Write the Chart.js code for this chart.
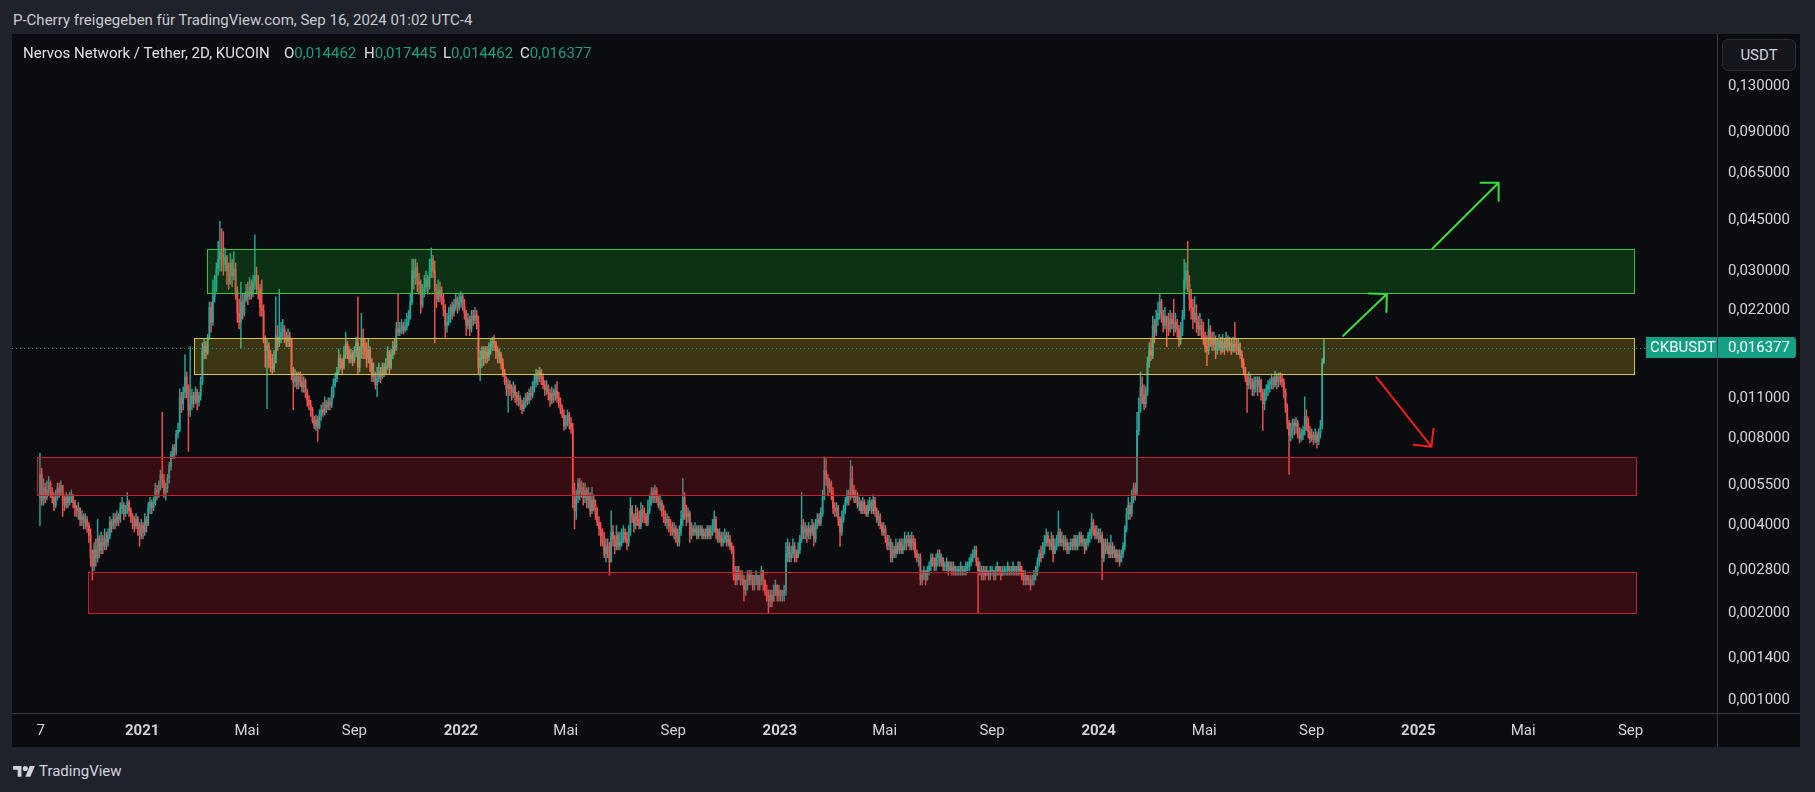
<!DOCTYPE html>
<html lang="de">
<head>
<meta charset="utf-8">
<title>CKB/USDT 2D</title>
<script src="https://cdn.jsdelivr.net/npm/chart.js@4.4.1/dist/chart.umd.min.js"></script>
<style>
  html, body { margin:0; padding:0; width:1815px; height:792px; overflow:hidden; background:#1f222b; font-family: Roboto, "DejaVu Sans", sans-serif; }
  #hdr { position:absolute; left:13px; top:11px; font-size:15px; line-height:18px; color:#c9cbd1; white-space:nowrap; }
  #panel { position:absolute; left:12px; top:34px; width:1788px; height:713px; background:#0b0c10; }
  #cv { position:absolute; left:12px; top:34px; }
  .lg { position:absolute; top:44px; font-size:15px; line-height:18px; color:#e0e2e7; white-space:nowrap; }
  .lg span { color:#1c9e82; }
  #usdt { position:absolute; left:1722px; top:39px; width:74px; height:32px; box-sizing:border-box; border:1px solid #2a2e39; border-radius:6px; background:#14161c; color:#d1d4dc; font-size:15px; line-height:30px; text-align:center; }
  #foot { position:absolute; left:12px; top:762px; height:18px; display:flex; align-items:center; gap:3px; color:#d1d4dc; font-size:15px; }
</style>
</head>
<body>
<div id="hdr">P-Cherry freigegeben für TradingView.com, Sep 16, 2024 01:02 UTC-4</div>
<div id="panel"></div>
<canvas id="cv" width="1788" height="713" style="width:1788px;height:713px"></canvas>
<div class="lg" style="left:23px">Nervos Network / Tether, 2D, KUCOIN</div>
<div class="lg" style="left:284px">O<span id="vO">0,014462</span></div>
<div class="lg" style="left:364px">H<span id="vH">0,017445</span></div>
<div class="lg" style="left:443px">L<span id="vL">0,014462</span></div>
<div class="lg" style="left:520px">C<span id="vC">0,016377</span></div>
<div id="usdt">USDT</div>
<div id="foot">
  <svg width="24" height="14" viewBox="0 0 36 22"><path d="M14 20H8V9H1V3h13v17z" fill="#d1d4dc"/><circle cx="20" cy="7" r="4" fill="#d1d4dc"/><path d="M27 3h8l-7 17h-8l7-17z" fill="#d1d4dc"/></svg>
  <span>TradingView</span>
</div>
<script>
// ---------------- DATA ----------------
const symbol = 'CKBUSDT';
const firstCandleDate = '2020-09-06';
const intervalDays = 2;
const firstOpen = .0050;

const closes = [
.0060,.0049,.0054,.0050,.0053,.0056,.0052,.0050,.0047,.0050,
.0054,.0052,.0055,.0049,.0047,.0050,.0048,.0050,.0051,.0048,
.0046,.0045,.0046,.0042,.0043,.0041,.0042,.0040,.0037,.0031,
.0029,.0033,.0031,.0036,.0033,.0035,.0034,.0036,.0035,.0037,
.0041,.0040,.0042,.0041,.0043,.0042,.0046,.0047,.0044,.0045,
.0048,.0045,.0043,.0041,.0040,.0042,.0039,.0037,.0040,.0038,
.0042,.0040,.0046,.0048,.0046,.0048,.0053,.0052,.0055,.0060,
.0057,.0052,.0054,.0058,.0064,.0070,.0074,.0072,.0083,.0085,
.0110,.0105,.0115,.0130,.0118,.0100,.0105,.0112,.0108,.0115,
.0106,.0112,.0125,.0160,.0165,.0158,.0178,.0225,.0200,.0245,
.0265,.0305,.0330,.0350,.0340,.0315,.0335,.0300,.0275,.0320,
.0290,.0305,.0255,.0215,.0200,.0235,.0215,.0240,.0255,.0245,
.0265,.0250,.0275,.0290,.0265,.0260,.0225,.0220,.0175,.0160,
.0165,.0150,.0140,.0138,.0145,.0180,.0170,.0178,.0185,.0190,
.0178,.0172,.0180,.0175,.0135,.0125,.0130,.0122,.0130,.0125,
.0120,.0126,.0115,.0108,.0104,.0100,.0092,.0088,.0092,.0087,
.0096,.0100,.0098,.0104,.0102,.0106,.0104,.0112,.0122,.0128,
.0135,.0150,.0145,.0140,.0155,.0168,.0160,.0150,.0155,.0148,
.0158,.0170,.0140,.0155,.0175,.0165,.0160,.0150,.0162,.0145,
.0130,.0132,.0122,.0128,.0135,.0130,.0140,.0133,.0142,.0158,
.0140,.0155,.0165,.0162,.0190,.0185,.0190,.0195,.0188,.0193,
.0200,.0210,.0235,.0300,.0285,.0310,.0275,.0270,.0230,.0255,
.0265,.0280,.0265,.0300,.0330,.0300,.0260,.0240,.0260,.0245,
.0240,.0220,.0195,.0200,.0210,.0225,.0215,.0230,.0240,.0225,
.0235,.0245,.0230,.0215,.0195,.0205,.0190,.0210,.0205,.0212,
.0200,.0140,.0150,.0160,.0150,.0158,.0152,.0162,.0168,.0172,
.0170,.0160,.0152,.0155,.0145,.0134,.0125,.0118,.0122,.0118,
.0115,.0120,.0112,.0108,.0110,.0104,.0101,.0106,.0110,.0108,
.0114,.0112,.0120,.0125,.0133,.0128,.0135,.0130,.0122,.0117,
.0120,.0114,.0108,.0114,.0112,.0116,.0110,.0106,.0100,.0096,
.0088,.0092,.0096,.0090,.0086,.0052,.0045,.0050,.0056,.0052,
.0054,.0050,.0053,.0049,.0051,.0045,.0049,.0047,.0044,.0041,
.0039,.0037,.0035,.0032,.0034,.0033,.0030,.0038,.0036,.0034,
.0037,.0034,.0035,.0036,.0038,.0036,.0035,.0038,.0046,.0043,
.0040,.0044,.0042,.0040,.0045,.0044,.0043,.0041,.0045,.0049,
.0052,.0050,.0053,.0050,.0047,.0048,.0045,.0043,.0041,.0042,
.0040,.0039,.0038,.0039,.0037,.0035,.0038,.0042,.0050,.0045,
.0043,.0044,.0037,.0039,.0038,.0039,.0037,.0038,.0039,.0037,
.0038,.0037,.0039,.0037,.0038,.0040,.0042,.0038,.0036,.0037,
.0035,.0036,.0037,.0035,.0036,.0034,.0033,.0027,.0026,.0028,
.0027,.0026,.0026,.0024,.0025,.0027,.0026,.0027,.0025,.0026,
.0027,.0025,.0026,.0028,.0026,.0024,.0023,.0022,.0023,.0022,
.0024,.0025,.0023,.0024,.0023,.0023,.0024,.0032,.0034,.0031,
.0032,.0034,.0032,.0031,.0033,.0036,.0040,.0038,.0039,.0037,
.0039,.0038,.0040,.0036,.0040,.0042,.0041,.0044,.0050,.0062,
.0058,.0054,.0056,.0052,.0046,.0045,.0046,.0042,.0038,.0042,
.0045,.0048,.0051,.0050,.0058,.0053,.0050,.0051,.0047,.0048,
.0045,.0048,.0046,.0044,.0047,.0048,.0045,.0049,.0045,.0042,
.0043,.0040,.0038,.0039,.0036,.0034,.0035,.0031,.0033,.0032,
.0034,.0033,.0035,.0033,.0034,.0036,.0035,.0036,.0034,.0036,
.0035,.0032,.0031,.0031,.0026,.0027,.0028,.0026,.0028,.0029,
.0031,.0030,.0029,.0031,.0032,.0030,.0031,.0029,.0029,.0030,
.0028,.0029,.0028,.0029,.0028,.0028,.0028,.0029,.0028,.0028,
.0029,.0029,.0030,.0031,.0032,.0033,.0030,.0028,.0028,.0027,
.0028,.0027,.0028,.0027,.0028,.0028,.0027,.0028,.0029,.0028,
.0027,.0028,.0028,.0028,.0029,.0028,.0028,.0029,.0028,.0028,
.0029,.0028,.0027,.0026,.0027,.0026,.0026,.0025,.0026,.0027,
.0028,.0030,.0032,.0031,.0033,.0035,.0037,.0035,.0034,.0036,
.0032,.0034,.0036,.0038,.0035,.0036,.0034,.0035,.0033,.0034,
.0035,.0034,.0036,.0034,.0035,.0037,.0035,.0036,.0033,.0035,
.0037,.0038,.0041,.0039,.0037,.0038,.0036,.0037,.0031,.0035,
.0033,.0034,.0032,.0034,.0032,.0033,.0031,.0032,.0030,.0032,
.0034,.0039,.0044,.0047,.0044,.0050,.0054,.0052,.0085,.0098,
.0120,.0112,.0105,.0115,.0145,.0160,.0155,.0195,.0185,.0205,
.0215,.0235,.0210,.0195,.0210,.0200,.0190,.0205,.0198,.0190,
.0200,.0190,.0175,.0185,.0210,.0280,.0300,.0270,.0240,.0225,
.0205,.0215,.0200,.0190,.0195,.0185,.0178,.0165,.0160,.0190,
.0175,.0168,.0175,.0160,.0165,.0172,.0160,.0170,.0162,.0175,
.0165,.0170,.0160,.0168,.0165,.0160,.0168,.0155,.0145,.0138,
.0130,.0122,.0128,.0125,.0118,.0125,.0127,.0120,.0126,.0115,
.0105,.0112,.0118,.0122,.0125,.0128,.0122,.0130,.0125,.0130,
.0128,.0125,.0115,.0102,.0090,.0082,.0086,.0090,.0088,.0090,
.0084,.0080,.0082,.0085,.0095,.0090,.0084,.0080,.0082,.0079,
.0082,.0078,.0083,.0088,.014462,.016377
];

const highs = [
.0071,.0063,.0058,.0056,.0057,.0059,.0057,.0054,.0052,.0053,
.0056,.0056,.0057,.0055,.0051,.0052,.0051,.0052,.0053,.0051,
.0049,.0047,.0048,.0046,.0045,.0044,.0044,.0043,.0041,.0039,
.0033,.0035,.0036,.0042,.0037,.0038,.0037,.0039,.0038,.0039,
.0043,.0042,.0044,.0044,.0045,.0044,.0048,.0050,.0048,.0047,
.0052,.0049,.0046,.0044,.0043,.0044,.0043,.0041,.0042,.0041,
.0044,.0043,.0048,.0050,.0049,.0050,.0056,.0055,.0057,.0062,
.0098,.0060,.0056,.0060,.0066,.0072,.0076,.0076,.0085,.0090,
.0118,.0115,.0120,.0155,.0135,.0122,.0165,.0118,.0115,.0120,
.0118,.0115,.0130,.0170,.0175,.0172,.0182,.0235,.0235,.0280,
.0290,.0320,.0380,.0445,.0420,.0410,.0360,.0340,.0320,.0345,
.0330,.0350,.0320,.0265,.0240,.0275,.0250,.0250,.0270,.0275,
.0285,.0280,.0290,.0400,.0310,.0290,.0270,.0280,.0230,.0180,
.0175,.0170,.0160,.0155,.0160,.0245,.0195,.0260,.0200,.0205,
.0195,.0185,.0190,.0185,.0175,.0140,.0138,.0135,.0135,.0135,
.0132,.0130,.0128,.0118,.0112,.0108,.0102,.0095,.0096,.0095,
.0100,.0104,.0106,.0111,.0108,.0110,.0110,.0120,.0128,.0134,
.0140,.0162,.0155,.0150,.0165,.0185,.0172,.0165,.0162,.0160,
.0165,.0178,.0245,.0165,.0215,.0190,.0175,.0170,.0175,.0165,
.0150,.0145,.0135,.0140,.0145,.0140,.0145,.0145,.0150,.0165,
.0160,.0162,.0172,.0175,.0200,.0250,.0200,.0205,.0200,.0205,
.0215,.0220,.0250,.0330,.0330,.0330,.0320,.0295,.0280,.0270,
.0290,.0300,.0290,.0330,.0360,.0340,.0325,.0270,.0280,.0275,
.0265,.0250,.0230,.0215,.0225,.0230,.0235,.0240,.0250,.0245,
.0250,.0255,.0250,.0240,.0220,.0215,.0210,.0220,.0220,.0225,
.0220,.0210,.0160,.0165,.0165,.0165,.0165,.0170,.0175,.0178,
.0180,.0172,.0165,.0162,.0158,.0150,.0138,.0130,.0128,.0126,
.0122,.0125,.0122,.0115,.0116,.0112,.0108,.0110,.0114,.0115,
.0118,.0120,.0125,.0132,.0138,.0137,.0140,.0138,.0133,.0126,
.0126,.0122,.0118,.0120,.0118,.0122,.0125,.0115,.0110,.0104,
.0100,.0096,.0100,.0098,.0094,.0090,.0056,.0053,.0058,.0058,
.0057,.0056,.0056,.0054,.0054,.0052,.0054,.0051,.0049,.0046,
.0043,.0041,.0039,.0038,.0036,.0036,.0035,.0045,.0040,.0037,
.0040,.0038,.0038,.0039,.0040,.0039,.0038,.0040,.0050,.0047,
.0044,.0047,.0046,.0045,.0048,.0047,.0046,.0044,.0049,.0051,
.0054,.0054,.0055,.0054,.0051,.0051,.0049,.0047,.0045,.0044,
.0043,.0042,.0041,.0041,.0040,.0039,.0040,.0045,.0058,.0052,
.0047,.0046,.0045,.0041,.0040,.0041,.0040,.0040,.0040,.0040,
.0039,.0039,.0040,.0040,.0040,.0042,.0045,.0043,.0039,.0039,
.0038,.0038,.0039,.0038,.0038,.0037,.0035,.0034,.0029,.0029,
.0029,.0028,.0028,.0027,.0026,.0028,.0028,.0028,.0027,.0027,
.0028,.0027,.0027,.0029,.0028,.0026,.0025,.0024,.0024,.0024,
.0025,.0026,.0025,.0025,.0024,.0024,.0025,.0035,.0036,.0035,
.0034,.0036,.0035,.0033,.0035,.0037,.0052,.0042,.0041,.0040,
.0041,.0040,.0042,.0041,.0042,.0044,.0044,.0046,.0053,.0069,
.0068,.0060,.0058,.0057,.0054,.0048,.0048,.0047,.0043,.0045,
.0047,.0050,.0053,.0053,.0067,.0064,.0055,.0053,.0052,.0050,
.0049,.0050,.0049,.0047,.0049,.0050,.0049,.0051,.0050,.0046,
.0045,.0044,.0041,.0041,.0040,.0037,.0037,.0036,.0035,.0034,
.0036,.0035,.0036,.0036,.0036,.0038,.0037,.0038,.0037,.0038,
.0037,.0036,.0033,.0032,.0032,.0028,.0029,.0028,.0029,.0030,
.0032,.0032,.0031,.0032,.0033,.0033,.0032,.0031,.0030,.0031,
.0030,.0030,.0030,.0030,.0029,.0029,.0029,.0030,.0029,.0029,
.0030,.0030,.0031,.0032,.0033,.0034,.0034,.0031,.0030,.0029,
.0029,.0029,.0029,.0028,.0029,.0029,.0028,.0029,.0030,.0029,
.0029,.0029,.0029,.0029,.0030,.0029,.0029,.0030,.0029,.0029,
.0030,.0030,.0029,.0028,.0028,.0027,.0027,.0027,.0027,.0028,
.0029,.0031,.0033,.0034,.0035,.0037,.0039,.0038,.0036,.0038,
.0037,.0036,.0037,.0045,.0039,.0038,.0037,.0037,.0036,.0035,
.0036,.0036,.0037,.0037,.0037,.0038,.0038,.0037,.0036,.0036,
.0038,.0039,.0044,.0042,.0040,.0040,.0039,.0039,.0038,.0036,
.0036,.0036,.0035,.0037,.0035,.0034,.0033,.0033,.0033,.0033,
.0035,.0040,.0046,.0050,.0048,.0053,.0056,.0056,.0098,.0110,
.0135,.0130,.0122,.0120,.0152,.0170,.0175,.0210,.0205,.0220,
.0235,.0250,.0240,.0220,.0225,.0210,.0215,.0220,.0215,.0240,
.0215,.0205,.0195,.0200,.0220,.0330,.0320,.0380,.0290,.0260,
.0240,.0245,.0230,.0210,.0215,.0205,.0200,.0185,.0180,.0205,
.0195,.0185,.0185,.0180,.0175,.0182,.0178,.0182,.0175,.0185,
.0180,.0178,.0175,.0178,.0200,.0175,.0175,.0170,.0160,.0150,
.0140,.0132,.0135,.0132,.0128,.0130,.0130,.0130,.0130,.0128,
.0118,.0118,.0122,.0126,.0128,.0133,.0130,.0136,.0133,.0134,
.0134,.0133,.0128,.0118,.0105,.0092,.0090,.0093,.0093,.0094,
.0092,.0087,.0086,.0088,.0111,.0100,.0094,.0088,.0086,.0084,
.0086,.0084,.0086,.0092,.0150,.017445
];

const lows = [
.0040,.0047,.0047,.0048,.0049,.0051,.0050,.0048,.0045,.0046,
.0049,.0050,.0051,.0043,.0045,.0046,.0046,.0047,.0048,.0046,
.0043,.0043,.0042,.0040,.0040,.0039,.0039,.0038,.0035,.0029,
.0026,.0028,.0029,.0030,.0031,.0032,.0032,.0033,.0033,.0034,
.0036,.0038,.0039,.0039,.0040,.0040,.0041,.0044,.0042,.0043,
.0044,.0043,.0041,.0039,.0038,.0039,.0037,.0034,.0036,.0036,
.0037,.0038,.0040,.0044,.0044,.0045,.0047,.0049,.0050,.0053,
.0054,.0050,.0049,.0052,.0056,.0062,.0068,.0068,.0070,.0080,
.0084,.0098,.0100,.0110,.0110,.0072,.0095,.0100,.0102,.0105,
.0100,.0103,.0108,.0122,.0150,.0150,.0155,.0175,.0185,.0195,
.0235,.0255,.0290,.0300,.0300,.0290,.0300,.0270,.0260,.0270,
.0265,.0280,.0240,.0200,.0190,.0163,.0205,.0210,.0235,.0230,
.0240,.0240,.0245,.0260,.0250,.0240,.0210,.0210,.0170,.0140,
.0101,.0140,.0135,.0133,.0135,.0145,.0160,.0165,.0170,.0175,
.0170,.0165,.0165,.0165,.0127,.0100,.0120,.0118,.0118,.0120,
.0115,.0115,.0110,.0103,.0100,.0095,.0090,.0086,.0085,.0078,
.0086,.0092,.0095,.0096,.0098,.0100,.0100,.0102,.0110,.0120,
.0125,.0132,.0138,.0132,.0138,.0150,.0150,.0145,.0145,.0142,
.0145,.0152,.0133,.0135,.0150,.0150,.0150,.0140,.0145,.0135,
.0125,.0125,.0118,.0111,.0125,.0124,.0128,.0130,.0132,.0138,
.0133,.0138,.0150,.0155,.0160,.0180,.0180,.0183,.0182,.0185,
.0188,.0195,.0205,.0230,.0260,.0270,.0255,.0250,.0215,.0225,
.0245,.0255,.0250,.0260,.0285,.0285,.0170,.0225,.0235,.0235,
.0230,.0210,.0178,.0185,.0195,.0200,.0205,.0210,.0220,.0215,
.0220,.0225,.0220,.0205,.0180,.0190,.0180,.0185,.0195,.0198,
.0190,.0132,.0126,.0140,.0142,.0145,.0145,.0148,.0155,.0160,
.0160,.0150,.0145,.0145,.0138,.0130,.0122,.0112,.0098,.0112,
.0108,.0110,.0106,.0104,.0103,.0100,.0097,.0099,.0102,.0104,
.0105,.0108,.0110,.0115,.0120,.0122,.0125,.0122,.0118,.0112,
.0113,.0108,.0103,.0105,.0106,.0108,.0106,.0102,.0097,.0094,
.0085,.0086,.0088,.0086,.0083,.0046,.0039,.0042,.0048,.0049,
.0050,.0047,.0048,.0046,.0046,.0043,.0044,.0045,.0042,.0040,
.0037,.0034,.0034,.0031,.0030,.0031,.0027,.0030,.0034,.0032,
.0033,.0033,.0033,.0034,.0035,.0035,.0033,.0034,.0037,.0041,
.0038,.0039,.0040,.0039,.0039,.0041,.0041,.0040,.0040,.0044,
.0047,.0048,.0048,.0048,.0046,.0045,.0043,.0041,.0040,.0039,
.0038,.0037,.0037,.0036,.0035,.0034,.0034,.0037,.0040,.0042,
.0040,.0041,.0035,.0036,.0037,.0037,.0036,.0036,.0037,.0036,
.0036,.0036,.0036,.0036,.0036,.0037,.0038,.0036,.0035,.0035,
.0034,.0034,.0035,.0034,.0034,.0033,.0032,.0026,.0025,.0025,
.0026,.0025,.0025,.0022,.0023,.0024,.0025,.0025,.0024,.0024,
.0025,.0024,.0024,.0025,.0024,.0023,.0022,.0020,.0021,.0021,
.0022,.0023,.0022,.0022,.0022,.0022,.0022,.0023,.0030,.0030,
.0030,.0031,.0030,.0030,.0031,.0032,.0035,.0036,.0036,.0035,
.0036,.0036,.0037,.0034,.0035,.0039,.0040,.0040,.0043,.0049,
.0055,.0051,.0052,.0049,.0044,.0043,.0043,.0040,.0034,.0037,
.0041,.0044,.0047,.0047,.0049,.0050,.0048,.0048,.0046,.0045,
.0044,.0044,.0044,.0043,.0043,.0045,.0044,.0044,.0043,.0041,
.0040,.0039,.0037,.0037,.0035,.0033,.0033,.0030,.0030,.0031,
.0031,.0032,.0032,.0032,.0032,.0033,.0033,.0034,.0033,.0033,
.0033,.0031,.0030,.0029,.0025,.0025,.0026,.0025,.0026,.0027,
.0028,.0029,.0028,.0028,.0029,.0029,.0029,.0028,.0028,.0028,
.0027,.0028,.0027,.0027,.0027,.0027,.0027,.0027,.0027,.0027,
.0027,.0028,.0028,.0029,.0030,.0031,.0029,.0020,.0027,.0026,
.0026,.0026,.0027,.0026,.0026,.0027,.0026,.0026,.0027,.0027,
.0026,.0027,.0027,.0027,.0027,.0027,.0027,.0027,.0027,.0027,
.0027,.0027,.0026,.0025,.0025,.0025,.0025,.0024,.0025,.0025,
.0026,.0027,.0029,.0030,.0031,.0032,.0034,.0034,.0033,.0033,
.0030,.0032,.0033,.0034,.0034,.0034,.0033,.0033,.0032,.0032,
.0033,.0033,.0033,.0033,.0033,.0034,.0034,.0034,.0032,.0033,
.0034,.0035,.0036,.0037,.0036,.0036,.0035,.0035,.0026,.0030,
.0032,.0032,.0031,.0031,.0031,.0031,.0030,.0030,.0029,.0030,
.0031,.0033,.0038,.0042,.0042,.0043,.0048,.0049,.0051,.0082,
.0100,.0105,.0100,.0102,.0112,.0140,.0148,.0150,.0170,.0180,
.0195,.0205,.0200,.0185,.0190,.0165,.0180,.0185,.0190,.0180,
.0185,.0178,.0165,.0168,.0180,.0205,.0260,.0255,.0220,.0205,
.0190,.0200,.0185,.0180,.0180,.0175,.0168,.0158,.0142,.0155,
.0165,.0160,.0160,.0150,.0155,.0160,.0155,.0158,.0155,.0160,
.0158,.0160,.0155,.0158,.0158,.0155,.0155,.0150,.0140,.0132,
.0125,.0098,.0118,.0118,.0112,.0112,.0115,.0112,.0115,.0108,
.0085,.0100,.0108,.0112,.0115,.0118,.0118,.0120,.0118,.0120,
.0122,.0120,.0110,.0098,.0086,.0060,.0078,.0080,.0082,.0083,
.0080,.0077,.0078,.0079,.0082,.0085,.0080,.0077,.0078,.0076,
.0077,.0074,.0076,.0080,.0086,.014462
];

// axis: visible time window and price window
const viewStart = '2020-08-05';
const viewEnd = '2025-12-09';
const priceMin = 0.000907;
const priceMax = 0.19617;

const yTickValues = [0.13, 0.09, 0.065, 0.045, 0.03, 0.022, 0.011, 0.008, 0.0055, 0.004, 0.0028, 0.002, 0.0014, 0.001];
const xTickDates  = ['2020-09-07','2021-01-01','2021-05-01','2021-09-01','2022-01-01','2022-05-01','2022-09-01','2023-01-01','2023-05-01','2023-09-01','2024-01-01','2024-05-01','2024-09-01','2025-01-01','2025-05-01','2025-09-01'];
const xTickLabels = ['7','2021','Mai','Sep','2022','Mai','Sep','2023','Mai','Sep','2024','Mai','Sep','2025','Mai','Sep'];

// drawn zones: [from, to, top price, bottom price]
const zoneKinds   = ['green', 'yellow', 'red', 'red'];
const zoneFrom    = ['2021-03-16', '2021-03-01', '2020-09-03', '2020-10-31'];
const zoneTo      = ['2025-09-05', '2025-09-05', '2025-09-07', '2025-09-07'];
const zoneTop     = [0.03568, 0.01763, 0.006890, 0.002765];
const zoneBottom  = [0.02514, 0.01326, 0.005087, 0.001998];

// drawn arrows: tail -> tip
const arrowKinds    = ['up', 'up', 'down'];
const arrowFromDate = ['2024-10-07', '2025-01-17', '2024-11-14'];
const arrowFromPx   = [0.01799, 0.03583, 0.01295];
const arrowToDate   = ['2024-11-26', '2025-04-03', '2025-01-16'];
const arrowToPx     = [0.02503, 0.06043, 0.00747];

// ---------------- STYLE ----------------
const UP = '#26a69a', DOWN = '#ef5350', PRICE = '#14a085';
const zoneStyle = {
  green:  { fill: 'rgba(20,200,40,0.20)',  line: '#3fbf3f' },
  yellow: { fill: 'rgba(255,220,40,0.20)', line: '#d2c23e' },
  red:    { fill: 'rgba(230,20,30,0.20)',  line: '#c0232b' }
};
const arrowColor = { up: '#35e03b', down: '#f21e1e' };
const TXT = '#d1d4dc';
const FONT = 'Roboto';

// ---------------- BUILD ----------------
const DAY = 86400000, ORIGIN = Date.UTC(2021, 0, 1);
function dayNum(s) { const [y, m, d] = s.split('-').map(Number); return (Date.UTC(y, m - 1, d) - ORIGIN) / DAY; }
const fmt = v => v.toFixed(6).replace('.', ',');

const opens = [firstOpen].concat(closes.slice(0, -1));
const start = dayNum(firstCandleDate);
const candleX = closes.map((_, i) => start + i * intervalDays);
const isUp = i => closes[i] >= opens[i];
const last = closes.length - 1;

document.getElementById('vO').textContent = fmt(opens[last]);
document.getElementById('vH').textContent = fmt(highs[last]);
document.getElementById('vL').textContent = fmt(lows[last]);
document.getElementById('vC').textContent = fmt(closes[last]);

const wickData = candleX.map((x, i) => ({ x, y: [lows[i], highs[i]] }));
const bodyData = candleX.map((x, i) => ({ x, y: [opens[i], closes[i]] }));

function drawArrow(ctx, x1, y1, x2, y2, color) {
  const ang = Math.atan2(y2 - y1, x2 - x1), L = 18;
  ctx.strokeStyle = color; ctx.lineWidth = 2; ctx.lineCap = 'round';
  ctx.beginPath(); ctx.moveTo(x1, y1); ctx.lineTo(x2, y2);
  ctx.moveTo(x2 - L * Math.cos(ang - Math.PI / 4), y2 - L * Math.sin(ang - Math.PI / 4));
  ctx.lineTo(x2, y2);
  ctx.lineTo(x2 - L * Math.cos(ang + Math.PI / 4), y2 - L * Math.sin(ang + Math.PI / 4));
  ctx.stroke();
}

const overlay = {
  id: 'overlay',
  afterDatasetsDraw(chart) {
    const { ctx, chartArea: a, scales: { x, y } } = chart;
    ctx.save();
    ctx.beginPath(); ctx.rect(a.left, a.top, a.right - a.left, a.bottom - a.top); ctx.clip();
    zoneKinds.forEach((k, i) => {
      const x1 = Math.round(x.getPixelForValue(dayNum(zoneFrom[i]))), x2 = Math.round(x.getPixelForValue(dayNum(zoneTo[i])));
      const y1 = Math.round(y.getPixelForValue(zoneTop[i])), y2 = Math.round(y.getPixelForValue(zoneBottom[i]));
      ctx.fillStyle = zoneStyle[k].fill; ctx.fillRect(x1, y1, x2 - x1, y2 - y1);
      ctx.strokeStyle = zoneStyle[k].line; ctx.lineWidth = 1;
      ctx.strokeRect(x1 + 0.5, y1 + 0.5, x2 - x1, y2 - y1);
    });
    const py = Math.round(y.getPixelForValue(closes[last])) + 0.5;
    ctx.strokeStyle = PRICE; ctx.lineWidth = 1; ctx.setLineDash([1, 3]);
    ctx.beginPath(); ctx.moveTo(a.left, py); ctx.lineTo(a.right, py); ctx.stroke();
    ctx.setLineDash([]);
    arrowKinds.forEach((k, i) => {
      drawArrow(ctx,
        x.getPixelForValue(dayNum(arrowFromDate[i])), y.getPixelForValue(arrowFromPx[i]),
        x.getPixelForValue(dayNum(arrowToDate[i])), y.getPixelForValue(arrowToPx[i]), arrowColor[k]);
    });
    ctx.restore();
  },
  afterDraw(chart) {
    const { ctx, chartArea: a, scales: { y }, width, height } = chart;
    ctx.save();
    ctx.strokeStyle = '#363a45'; ctx.lineWidth = 1;
    ctx.beginPath();
    ctx.moveTo(a.right + 0.5, 0); ctx.lineTo(a.right + 0.5, height);
    ctx.moveTo(0, a.bottom + 0.5); ctx.lineTo(width, a.bottom + 0.5);
    ctx.stroke();
    const py = y.getPixelForValue(closes[last]);
    const h = 21;
    ctx.fillStyle = PRICE;
    ctx.fillRect(a.right - 71, Math.round(py - h / 2), 71, h);
    ctx.beginPath();
    if (ctx.roundRect) ctx.roundRect(a.right + 1, Math.round(py - h / 2), 78, h, [0, 3, 3, 0]);
    else ctx.rect(a.right + 1, Math.round(py - h / 2), 78, h);
    ctx.fill();
    ctx.fillStyle = '#ffffff'; ctx.font = '15px ' + FONT; ctx.textBaseline = 'middle';
    ctx.textAlign = 'left';
    ctx.fillText(symbol, a.right - 67, py + 1);
    ctx.fillText(fmt(closes[last]), a.right + 11, py + 1);
    ctx.restore();
  }
};

Chart.defaults.font.family = FONT;
new Chart(document.getElementById('cv'), {
  type: 'bar',
  data: {
    datasets: [
      { label: 'wick', data: wickData, barThickness: 0.8, grouped: false, borderWidth: 0,
        backgroundColor: c => isUp(c.dataIndex) ? UP : DOWN },
      { label: 'body', data: bodyData, barThickness: 1.15, grouped: false, borderWidth: 0, minBarLength: 1,
        backgroundColor: c => isUp(c.dataIndex) ? UP : DOWN }
    ]
  },
  options: {
    responsive: false, animation: false, devicePixelRatio: 1, events: [],
    layout: { padding: 0 },
    plugins: { legend: { display: false }, tooltip: { enabled: false } },
    scales: {
      x: {
        type: 'linear', offset: false, min: dayNum(viewStart), max: dayNum(viewEnd),
        grid: { display: false, drawTicks: false }, border: { display: false },
        afterBuildTicks: s => { s.ticks = xTickDates.map(d => ({ value: dayNum(d) })); },
        afterFit: s => { s.height = 34; s.paddingLeft = 0; s.paddingRight = 0; },
        ticks: {
          autoSkip: false, maxRotation: 0, padding: 9, color: TXT,
          font: c => ({ family: FONT, size: 15, weight: /^\d{4}$/.test(xTickLabels[c.index]) ? 'bold' : 'normal' }),
          callback: (v, i) => xTickLabels[i]
        }
      },
      y: {
        type: 'logarithmic', position: 'right', min: priceMin, max: priceMax, bounds: 'data',
        grid: { display: false, drawTicks: false }, border: { display: false },
        afterBuildTicks: s => { s.ticks = yTickValues.map(v => ({ value: v })); },
        afterFit: s => { s.width = 83; s.paddingTop = 0; s.paddingBottom = 0; },
        ticks: { autoSkip: false, padding: 11, color: TXT, font: { family: FONT, size: 15 }, callback: v => fmt(v) }
      }
    }
  },
  plugins: [overlay]
});
</script>
</body>
</html>
